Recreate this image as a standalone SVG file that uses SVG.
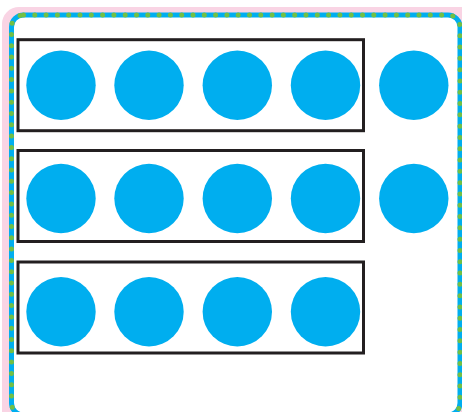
<svg xmlns="http://www.w3.org/2000/svg" width="462" height="412" viewBox="0 0 462 412">
<style>
.dot{fill:#00aeef}
.frame{fill:none;stroke:#231f20;stroke-width:3}
</style>
<rect width="462" height="412" fill="#ffffff"/>
<g id="border">
<rect x="2" y="7" width="480" height="430" rx="17" fill="#f9d4e4"/>
<rect x="11.5" y="15" width="448.5" height="400" rx="12" fill="#ffffff" stroke="#00aeef" stroke-width="5"/>
<rect x="11.5" y="15" width="448.5" height="400" rx="12" fill="none" stroke="#72bf44" stroke-width="5" stroke-linecap="round" stroke-dasharray="0 11.3"/>
</g>
<g id="frames">
<rect id="frame1" class="frame" x="18" y="39.7" width="345.5" height="91"/>
<rect id="frame2" class="frame" x="18" y="150.5" width="345.5" height="91"/>
<rect id="frame3" class="frame" x="18" y="262" width="345.5" height="91"/>
</g>
<g id="row1">
<circle class="dot" cx="61" cy="85.3" r="34.7"/>
<circle class="dot" cx="149" cy="85.3" r="34.7"/>
<circle class="dot" cx="237.3" cy="85.3" r="34.7"/>
<circle class="dot" cx="325.5" cy="85.3" r="34.7"/>
<circle class="dot" cx="413.8" cy="85.3" r="34.7"/>
</g>
<g id="row2">
<circle class="dot" cx="61" cy="198.5" r="34.7"/>
<circle class="dot" cx="149" cy="198.5" r="34.7"/>
<circle class="dot" cx="237.3" cy="198.5" r="34.7"/>
<circle class="dot" cx="325.5" cy="198.5" r="34.7"/>
<circle class="dot" cx="413.8" cy="198.5" r="34.7"/>
</g>
<g id="row3">
<circle class="dot" cx="61" cy="311.8" r="34.7"/>
<circle class="dot" cx="149" cy="311.8" r="34.7"/>
<circle class="dot" cx="237.3" cy="311.8" r="34.7"/>
<circle class="dot" cx="325.5" cy="311.8" r="34.7"/>
</g>
</svg>
